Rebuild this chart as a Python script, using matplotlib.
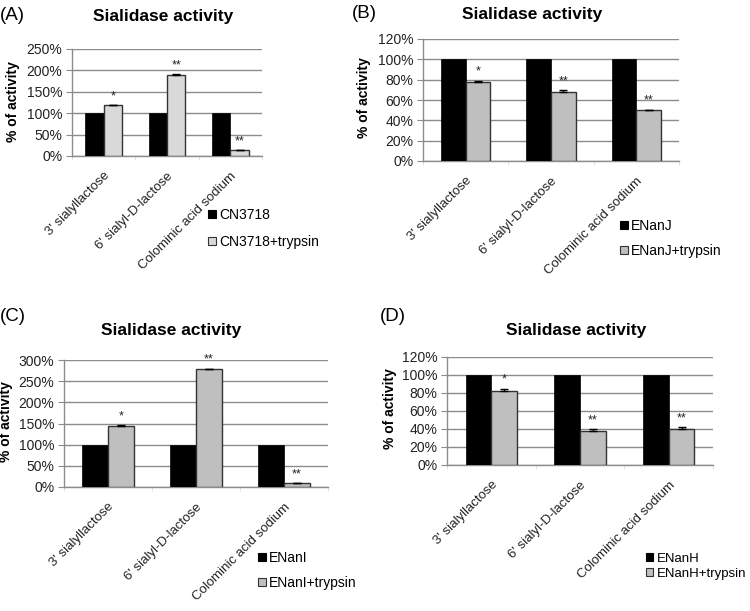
import matplotlib
matplotlib.use("Agg")
import matplotlib.pyplot as plt
from matplotlib.patches import Patch
import numpy as np

plt.rcParams['font.family'] = ['Liberation Sans', 'DejaVu Sans']

categories = ["3' sialyllactose", "6' sialyl-D-lactose", "Colominic acid sodium"]

ctrl_A = [100, 100, 100]
tryp_A = [118, 189, 13]
err_A = [1.5, 1.5, 1.5]
sig_A = ['*', '**', '**']
names_A = ['CN3718', 'CN3718+trypsin']

ctrl_B = [100, 100, 100]
tryp_B = [78, 68, 50]
err_B = [1.0, 1.5, 0.5]
sig_B = ['*', '**', '**']
names_B = ['ENanJ', 'ENanJ+trypsin']

ctrl_C = [100, 100, 100]
tryp_C = [143, 278, 9]
err_C = [2.5, 1.5, 1.0]
sig_C = ['*', '**', '**']
names_C = ['ENanI', 'ENanI+trypsin']

ctrl_D = [100, 100, 100]
tryp_D = [82, 38, 40]
err_D = [3.0, 2.0, 2.0]
sig_D = ['*', '**', '**']
names_D = ['ENanH', 'ENanH+trypsin']

W, H = 750, 611
fig = plt.figure(figsize=(7.5, 6.11), dpi=100)

def fx(px):
    return px / W

def fy(py):
    return 1 - py / H

panels = [
    dict(letter='(A)', ctrl=ctrl_A, tryp=tryp_A, err=err_A, sig=sig_A, names=names_A,
         rect=(72, 262, 49, 156), ymax=250, ystep=50, gray='#d9d9d9',
         title=(163, 17), lab=(0, 16), ylab=(13, 102), leg=(208, 208), ls=0.95, lfs=10),
    dict(letter='(B)', ctrl=ctrl_B, tryp=tryp_B, err=err_B, sig=sig_B, names=names_B,
         rect=(423, 679, 39, 161), ymax=120, ystep=20, gray='#bfbfbf',
         title=(532, 15), lab=(352, 13), ylab=(364, 98), leg=(620, 219), ls=0.8, lfs=10),
    dict(letter='(C)', ctrl=ctrl_C, tryp=tryp_C, err=err_C, sig=sig_C, names=names_C,
         rect=(64, 328, 360, 487), ymax=300, ystep=50, gray='#bfbfbf',
         title=(171, 330), lab=(0, 316), ylab=(6, 422), leg=(258, 551), ls=0.8, lfs=10),
    dict(letter='(D)', ctrl=ctrl_D, tryp=tryp_D, err=err_D, sig=sig_D, names=names_D,
         rect=(447, 713, 357, 465), ymax=120, ystep=20, gray='#bfbfbf',
         title=(576, 331), lab=(380, 316), ylab=(390, 409), leg=(646, 553), ls=0.2, lfs=9.5),
]

grid_col = '#8c8c8c'
x = np.arange(len(categories))
bw = 0.29

for p in panels:
    l, r, t, b = p['rect']
    ax = fig.add_axes([fx(l), fy(b), (r - l) / W, (b - t) / H])
    ax.set_xlim(-0.5, len(categories) - 0.5)
    ax.set_ylim(0, p['ymax'])
    ax.set_axisbelow(True)
    yt = np.arange(0, p['ymax'] + 1, p['ystep'])
    ax.set_yticks(yt)
    ax.set_yticklabels([f"{v}%" for v in yt], fontsize=10, color='#222222')
    ax.yaxis.grid(True, color=grid_col, linewidth=1.0)
    for s in ['top', 'right']:
        ax.spines[s].set_visible(False)
    for s in ['left', 'bottom']:
        ax.spines[s].set_color(grid_col)
        ax.spines[s].set_linewidth(1.0)
    ax.tick_params(axis='y', length=4, color=grid_col, pad=3)
    ax.set_xticks(x)
    ax.set_xticklabels(categories, rotation=45, ha='right', rotation_mode='anchor',
                       fontsize=9.5, color='#222222')
    ax.tick_params(axis='x', length=0, pad=10)
    ax.set_xticks(np.arange(-0.5, len(categories), 1.0), minor=True)
    ax.tick_params(axis='x', which='minor', length=3, color='#dddddd')

    ax.bar(x - bw / 2, p['ctrl'], width=bw, color='black', edgecolor='black', linewidth=0.5,
           label=p['names'][0], zorder=3)
    ax.bar(x + bw / 2, p['tryp'], width=bw, color=p['gray'], edgecolor='#333333', linewidth=1.0,
           label=p['names'][1], zorder=3)
    ax.errorbar(x + bw / 2, p['tryp'], yerr=[np.zeros(3), p['err']], fmt='none',
                ecolor='black', elinewidth=1.0, capsize=3, capthick=1.0, zorder=4)
    for xi, v, e, s in zip(x, p['tryp'], p['err'], p['sig']):
        ax.annotate(s, (xi + bw / 2, v + e), xytext=(0, 2), textcoords='offset points',
                    ha='center', va='bottom', fontsize=9, color='#222222')

    fig.text(fx(p['title'][0]), fy(p['title'][1]), 'Sialidase activity', fontsize=12.5,
             fontweight='bold', ha='center', va='center')
    fig.text(fx(p['lab'][0]), fy(p['lab'][1]), p['letter'], fontsize=13.5, ha='left',
             va='center')
    fig.text(fx(p['ylab'][0]), fy(p['ylab'][1]), '% of activity', fontsize=10, fontweight='bold',
             rotation=90, ha='center', va='center')

    handles = [Patch(facecolor='black', edgecolor='black', linewidth=0.8),
               Patch(facecolor=p['gray'], edgecolor='#333333', linewidth=0.8)]
    fig.legend(handles, p['names'], loc='upper left',
               bbox_to_anchor=(fx(p['leg'][0]), fy(p['leg'][1])),
               frameon=False, fontsize=p['lfs'], handlelength=0.55, handleheight=0.55,
               handletextpad=0.25, labelspacing=p['ls'], borderpad=0, borderaxespad=0)

fig.savefig('out.png', dpi=100)
